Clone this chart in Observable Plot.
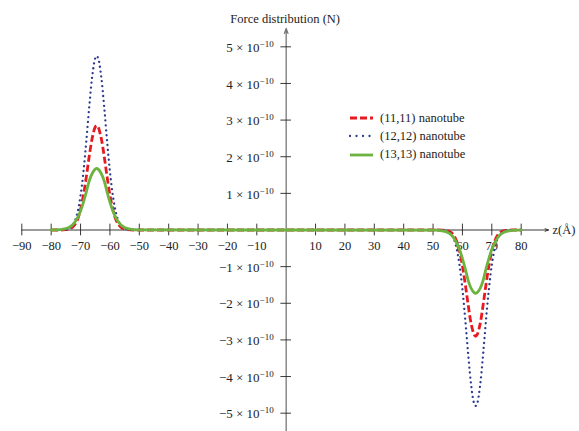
<!DOCTYPE html>
<html><head><meta charset="utf-8">
<script src="https://cdn.jsdelivr.net/npm/d3@7"></script>
<script src="https://cdn.jsdelivr.net/npm/@observablehq/plot@0.6"></script>
<style>
body{margin:0;background:#fff;font-family:"Liberation Serif",serif}
#wrap{position:relative;width:579px;height:431px}
#legend{position:absolute;left:348px;top:109px;font-size:12.5px;color:#222;font-family:"Liberation Serif",serif}
.row{display:flex;align-items:center;height:18.3px;white-space:nowrap}
.row svg{margin-right:5px}
</style></head>
<body><div id="wrap"><div id="legend"></div></div>
<script>
// z positions (Å)
const z = [-80,-79,-78,-77,-76,-75,-74,-73,-72,-71,-70,-69,-68,-67,-66,-65,-64.5,-64,-63,-62,-61,-60,-59,-58,-57,-56,-55,-54,-53,-52,-51,-50,
  50,51,52,53,54,55,56,57,58,59,60,61,62,63,64,64.5,65,66,67,68,69,70,71,72,73,74,75,76,77,78,79,80];
// force values in units of 1e-10 N
const f11 = [0,0,0,0,0.002,0.008,0.022,0.06,0.14,0.29,0.56,0.96,1.47,2.04,2.52,2.81,2.85,2.81,2.52,2.04,1.47,0.96,0.56,0.29,0.14,0.06,0.022,0.008,0.002,0,0,0,
  0,0,0,-0.002,-0.008,-0.023,-0.06,-0.14,-0.30,-0.57,-0.98,-1.50,-2.07,-2.57,-2.86,-2.90,-2.86,-2.57,-2.07,-1.50,-0.98,-0.57,-0.30,-0.14,-0.06,-0.023,-0.008,-0.002,0,0,0,0];
const f12 = [0,0,0,0.001,0.004,0.013,0.04,0.10,0.23,0.49,0.94,1.60,2.46,3.40,4.21,4.69,4.75,4.69,4.21,3.40,2.46,1.60,0.94,0.49,0.23,0.10,0.04,0.013,0.004,0.001,0,0,
  0,0,-0.001,-0.004,-0.013,-0.04,-0.10,-0.23,-0.50,-0.95,-1.62,-2.48,-3.43,-4.25,-4.74,-4.80,-4.74,-4.25,-3.43,-2.48,-1.62,-0.95,-0.50,-0.23,-0.10,-0.04,-0.013,-0.004,-0.001,0,0,0];
const f13 = [0,0.002,0.005,0.011,0.021,0.04,0.07,0.12,0.21,0.34,0.52,0.76,1.05,1.35,1.55,1.66,1.68,1.66,1.55,1.35,1.05,0.76,0.52,0.34,0.21,0.12,0.07,0.04,0.021,0.011,0.005,0.002,
  -0.002,-0.005,-0.011,-0.022,-0.04,-0.07,-0.12,-0.21,-0.35,-0.53,-0.78,-1.07,-1.39,-1.60,-1.71,-1.73,-1.71,-1.60,-1.39,-1.07,-0.78,-0.53,-0.35,-0.21,-0.12,-0.07,-0.04,-0.022,-0.011,-0.005,-0.002,0];
const seriesNames = ["(11,11) nanotube","(12,12) nanotube","(13,13) nanotube"];
const xTicks = [-90,-80,-70,-60,-50,-40,-30,-20,-10,10,20,30,40,50,60,70,80];
const yTicks = [-5,-4,-3,-2,-1,1,2,3,4,5];
const yLabel = "Force distribution (N)";
const xLabel = "z(Å)";

const colors = ["#e8191f","#2b3a8c","#6cb33f"];
const styles = [
  {strokeWidth:2.8, strokeDasharray:"7,3", strokeLinecap:"butt"},
  {strokeWidth:2.3, strokeDasharray:"0.01,4.9", strokeLinecap:"round"},
  {strokeWidth:2.8}
];
const allSeries = [f11,f12,f13];
const rows = seriesNames.map((s,i)=>z.map((x,j)=>({z:x, v:allSeries[i][j], series:s})));

const minus = s => String(s).replace("-","\u2212");
const font = "Liberation Serif, serif";

const plot = Plot.plot({
  width:579, height:431,
  marginTop:28, marginBottom:0, marginLeft:21.3, marginRight:31,
  x:{domain:[-90,89.3], axis:null},
  y:{domain:[-5.5,5.5], axis:null},
  style:{fontFamily:font, background:"#fff", color:"#222"},
  marks:[
    Plot.arrow([0],{x1:-90,y1:0,x2:89.3,y2:0,stroke:"#222",strokeWidth:0.9,headLength:6,headAngle:40}),
    Plot.arrow([0],{x1:0,y1:-5.5,x2:0,y2:5.5,stroke:"#777",strokeWidth:1.3,headLength:6,headAngle:40}),
    Plot.ruleX(xTicks,{x:d=>d,y1:-0.16,y2:0.16,stroke:"#222",strokeWidth:0.9}),
    Plot.ruleY(yTicks,{y:d=>d,x1:-1.8,x2:1.8,stroke:"#222",strokeWidth:0.9}),
    Plot.text(xTicks,{x:d=>d,y:0,text:d=>minus(d),dy:16,fontSize:12.5,fill:"#222"}),
    Plot.text(yTicks,{x:0,y:d=>d,text:d=>minus(d)+" \u00d7 10^\u221210",dx:-12.5,dy:1,textAnchor:"end",fontSize:13,fill:"#222"}),
    Plot.text([yLabel],{frameAnchor:"top",dy:-14,fontSize:12.5,fill:"#222"}),
    Plot.text([xLabel],{x:89.3,y:0,dx:4,textAnchor:"start",fontSize:12.5,fill:"#222"}),
    ...rows.map((r,i)=>Plot.line(r,{x:"z",y:"v",stroke:colors[i],curve:"catmull-rom",...styles[i]}))
  ]
});
plot.querySelectorAll("text").forEach(t=>{
  if(t.textContent.includes("^")){
    const [a,b]=t.textContent.split("^");
    t.textContent="";
    const s1=document.createElementNS("http://www.w3.org/2000/svg","tspan");
    s1.textContent=a; t.appendChild(s1);
    const s2=document.createElementNS("http://www.w3.org/2000/svg","tspan");
    s2.textContent=b; s2.setAttribute("dy","-5"); s2.setAttribute("font-size","9"); t.appendChild(s2);
  }
});
document.getElementById("wrap").prepend(plot);

const legend = d3.select("#legend");
seriesNames.forEach((s,i)=>{
  const row = legend.append("div").attr("class","row");
  const svg = row.append("svg").attr("width",27).attr("height",10);
  const st = styles[i];
  svg.append("line").attr("x1",2).attr("x2",25).attr("y1",5).attr("y2",5)
    .attr("stroke",colors[i]).attr("stroke-width",st.strokeWidth)
    .attr("stroke-dasharray",i===1?"0.01,6.5":(st.strokeDasharray||null))
    .attr("stroke-linecap",st.strokeLinecap||"butt");
  row.append("span").text(s);
});
</script>
</body></html>
